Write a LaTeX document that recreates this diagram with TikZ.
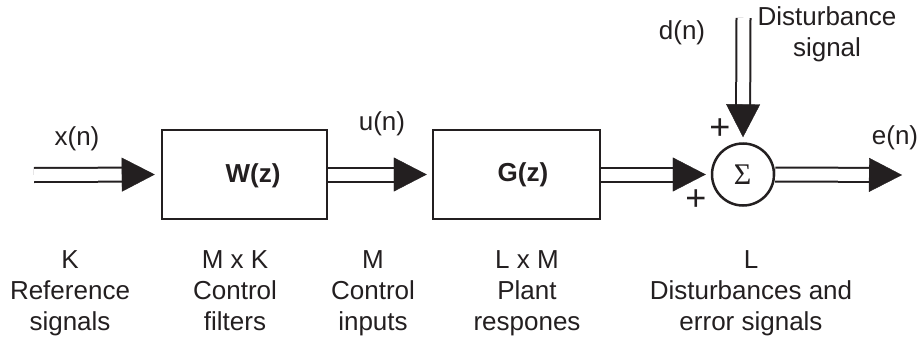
\documentclass[tikz,border=0pt]{standalone}
\usepackage{fontspec}
\setmainfont{Liberation Sans}
\newfontfamily\sigmafont{Liberation Serif}
\usetikzlibrary{arrows.meta,calc}
\definecolor{ink}{HTML}{231F20}
% #1 start, #2 end, #3 gap before the end
\newcommand\sigarrow[3]{%
  \draw[shaft] (#1) -- ($(#2)!#3+31pt!(#1)$);
  \draw[headline] ($(#2)!#3+33pt!(#1)$) -- ($(#2)!#3!(#1)$);}
\begin{document}
\begin{tikzpicture}[x=1pt,y=-1pt,
  box/.style={draw=ink, line width=2.5pt, minimum width=#1, minimum height=89pt, inner sep=0pt},
  boxtxt/.style={inner sep=0pt, text=ink, font=\bfseries\fontsize{26}{31}\selectfont},
  sumnode/.style={circle, draw=ink, line width=2.5pt, minimum size=62pt, inner sep=0pt},
  sigtxt/.style={inner sep=0pt, text=ink, font=\sigmafont\fontsize{30}{34}\selectfont},
  shaft/.style={draw=ink, line width=2pt, double=white, double distance=12pt},
  headline/.style={draw=ink, line width=0.4pt, -{Triangle[length=33pt,width=34pt]}},
  lbl/.style={inner sep=0pt, text=ink, font=\fontsize{26}{31}\selectfont},
  plus/.style={inner sep=0pt, text=ink, font=\fontsize{36}{40}\selectfont},
  col/.style={lbl, align=center, anchor=north}]
\useasboundingbox[fill=white] (0,0) rectangle (924,340);

% blocks
\node[box=165pt] (W) at (244.5,174.5) {};
\node[box=167pt] (G) at (516.5,174.5) {};
\node[sumnode] (S) at (743,174.5) {};
\node[sigtxt] (St) at (742.5,175) {Σ};
\node[boxtxt] (Wt) at (253,175.5) {W(z)};
\node[boxtxt] (Gt) at (523,175) {G(z)};

% free ends
\coordinate (xin) at (34,175);
\coordinate (dtop) at (743.5,18);
\coordinate (eout) at (902,175);

% signal arrows
\sigarrow{xin}{W.west}{6pt}
\sigarrow{W.east}{G.west}{5pt}
\sigarrow{G.east}{S.west}{5pt}
\sigarrow{dtop}{S.north}{5pt}
\sigarrow{S.east}{eout}{0pt}

% signal labels
\node[lbl] (xl) at (77,139) {x(n)};
\node[lbl] (ul) at (382,124) {u(n)};
\node[lbl] (dl) at (682,33) {d(n)};
\node[lbl] (el) at (895,138) {e(n)};
\node[col] (dsl) at (827,6) {Disturbance\\signal};
\node[plus] (p1) at (720,129) {+};
\node[plus] (p2) at (696,200) {+};

% bottom descriptions
\node[col] (c1) at (70,250) {K\\Reference\\signals};
\node[col] (c2) at (235,250) {M x K\\Control\\filters};
\node[col] (c3) at (373,250) {M\\Control\\inputs};
\node[col] (c4) at (527,250) {L x M\\Plant\\respones};
\node[col] (c5) at (751,250) {L\\Disturbances and\\error signals};
\end{tikzpicture}
\end{document}
